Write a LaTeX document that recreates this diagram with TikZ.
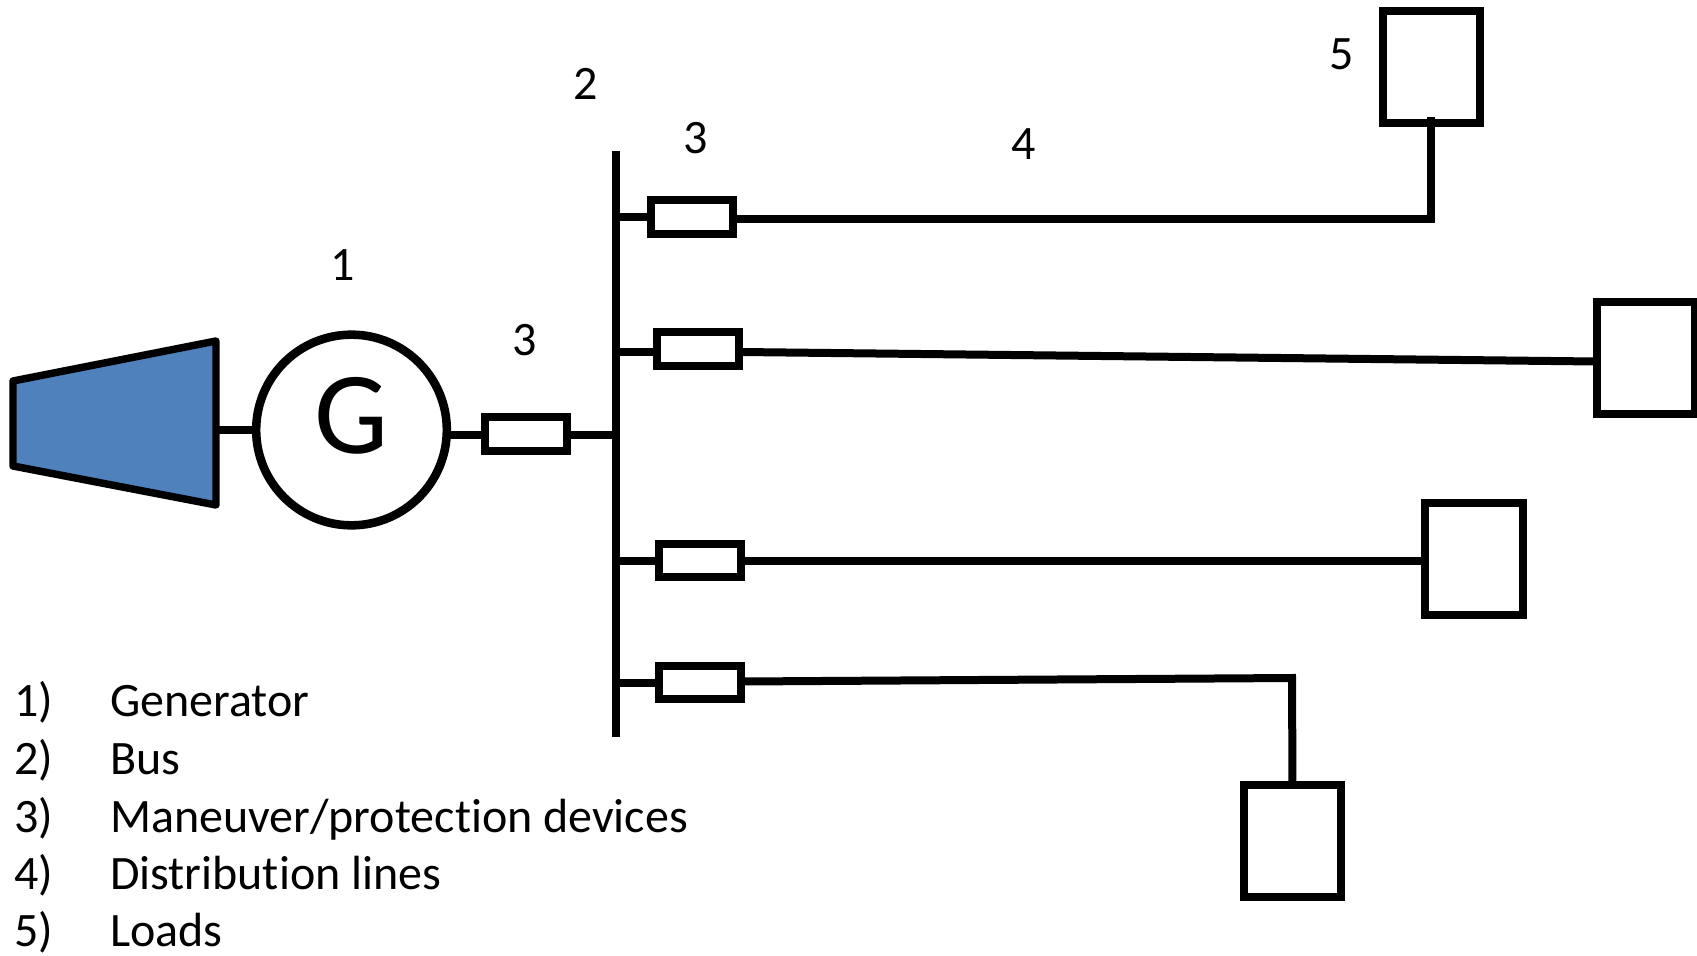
\documentclass[tikz,border=0pt]{standalone}
\usepackage{fontspec}
\setmainfont[Ligatures=NoCommon]{Carlito}
\definecolor{turbine}{RGB}{79,129,189}
\begin{document}
\begin{tikzpicture}[x=0.75pt,y=-0.75pt,
  every node/.style={inner sep=0pt,outer sep=0pt},
  wire/.style={line width=6pt,line cap=butt,line join=miter},
  breaker/.style={draw,line width=6pt,fill=white,minimum width=61.5pt,minimum height=25pt},
  loadbox/.style={draw,line width=5.8pt,fill=white,minimum width=73pt,minimum height=84pt},
  lbl/.style={font=\fontsize{36pt}{40pt}\selectfont,anchor=base},
  legend/.style={font=\fontsize{36pt}{40pt}\selectfont,anchor=base west}]
\useasboundingbox (0,0) rectangle (1697,956);
% turbine
\draw[line width=5.6pt,fill=turbine,line join=round] (13,381) -- (216,341) -- (216,505) -- (13,466) -- cycle;
\coordinate (shaft) at (216,430);
% generator
\node[circle,draw,line width=6.4pt,fill=white,minimum size=143pt] (gen) at (351.5,430) {};
\node[font=\fontsize{88pt}{96pt}\selectfont,anchor=base] (gl) at (352,453) {G};
% bus
\node[fill=black,minimum width=6pt,minimum height=439pt] (bus) at (615.5,444) {};
% breakers
\node[breaker] (brg) at (525.5,434) {};
\node[breaker] (br1) at (692,217) {};
\node[breaker] (br2) at (698,349) {};
\node[breaker] (br3) at (700,560.5) {};
\node[breaker] (br4) at (700,682.5) {};
% loads
\node[loadbox] (l1) at (1431.5,67) {};
\node[loadbox] (l2) at (1646,358) {};
\node[loadbox] (l3) at (1474,559) {};
\node[loadbox] (l4) at (1292.5,841) {};
% connectors
\coordinate (sg) at (0,434.5);
\coordinate (b2) at (0,352);
\coordinate (b3) at (0,561);
\coordinate (b4) at (0,683);
\draw[wire] (shaft) -- (gen.west |- shaft);
\draw[wire] (gen.east |- sg) -- (brg.west |- sg);
\draw[wire] (brg.east |- sg) -- (bus.center |- sg);
\draw[wire] (bus.center |- br1.west) -- (br1.west);
\draw[wire] (bus.center |- b2) -- (br2.west |- b2);
\draw[wire] (bus.center |- b3) -- (br3.west |- b3);
\draw[wire] (bus.center |- b4) -- (br4.west |- b4);
\coordinate (t1) at (1431,117);
\coordinate (e1) at (1431,223);
\coordinate (k1) at (1431,219);
\coordinate (s1) at (735,219);
\draw[wire] (s1) -- (k1);
\draw[wire] (e1) -- (t1);
\coordinate (s2) at (741,352);
\coordinate (e2) at (1596,361.5);
\draw[wire] (s2) -- (e2);
\draw[wire] (br3.east |- b3) -- (l3.west |- b3);
\coordinate (s4) at (743,681.5);
\coordinate (k4) at (1292,678);
\draw[wire,line join=miter] (s4) -- (k4) -- (l4.north);
% callouts
\node[lbl] (n1) at (343,280) {1};
\node[lbl] (n3a) at (525,355) {3};
\node[lbl] (n2) at (585.5,99) {2};
\node[lbl] (n3b) at (695.5,153) {3};
\node[lbl] (n4) at (1024,160) {4};
\node[lbl] (n5) at (1342,70) {5};
% legend
\node[legend] (a1) at (14,716.5) {1)};
\node[legend] (a2) at (14,774.5) {2)};
\node[legend] (a3) at (14,832) {3)};
\node[legend] (a4) at (14,889) {4)};
\node[legend] (a5) at (14,946) {5)};
\node[legend] (b1) at (110,716.5) {Generator};
\node[legend] (b2t) at (110,774.5) {Bus};
\node[legend] (b3t) at (110,832) {Maneuver/protection devices};
\node[legend] (b4t) at (110,889) {Distribution lines};
\node[legend] (b5t) at (110,946) {Loads};
\end{tikzpicture}
\end{document}
